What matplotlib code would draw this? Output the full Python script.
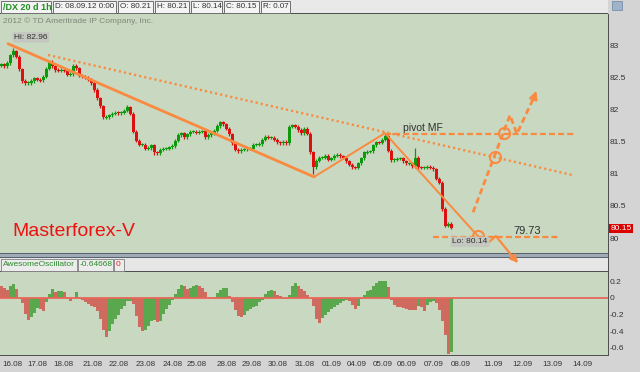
############################################################################################
# import packages
############################################################################################

import numpy as np
import matplotlib.pyplot as plt
from matplotlib.patches import Rectangle
import matplotlib.transforms as mtransforms

plt.rcParams['font.family'] = ['Liberation Sans', 'DejaVu Sans']

############################################################################################
# data (hourly bars, /DX)
############################################################################################

first_open = 82.68

closes = [82.70, 82.67, 82.72, 82.84, 82.90, 82.82, 82.62, 82.44, 82.41, 82.41,
          82.44, 82.48, 82.46, 82.45, 82.51, 82.63, 82.74, 82.67, 82.61, 82.60,
          82.61, 82.60, 82.54, 82.55, 82.68, 82.64, 82.52, 82.51, 82.49, 82.46,
          82.41, 82.30, 82.17, 82.05, 81.88, 81.88, 81.91, 81.93, 81.95, 81.94,
          81.95, 81.98, 82.03, 81.93, 81.65, 81.51, 81.45, 81.45, 81.39, 81.40,
          81.44, 81.33, 81.32, 81.37, 81.39, 81.39, 81.41, 81.43, 81.51, 81.60,
          81.63, 81.57, 81.61, 81.65, 81.65, 81.64, 81.65, 81.66, 81.57, 81.60,
          81.63, 81.67, 81.74, 81.80, 81.77, 81.70, 81.61, 81.47, 81.37, 81.35,
          81.37, 81.38, 81.39, 81.39, 81.45, 81.45, 81.46, 81.53, 81.57, 81.56,
          81.56, 81.53, 81.49, 81.47, 81.50, 81.47, 81.73, 81.75, 81.73, 81.68,
          81.63, 81.70, 81.62, 81.33, 81.10, 81.20, 81.25, 81.25, 81.28, 81.22,
          81.24, 81.28, 81.29, 81.27, 81.25, 81.19, 81.14, 81.10, 81.09, 81.16,
          81.24, 81.33, 81.34, 81.35, 81.44, 81.49, 81.48, 81.53, 81.58, 81.36,
          81.21, 81.22, 81.23, 81.24, 81.19, 81.16, 81.16, 81.12, 81.25, 81.10,
          81.09, 81.09, 81.11, 81.09, 81.07, 80.92, 80.86, 80.45, 80.19, 80.22,
          80.15]

# wicks that stick out further than the usual ones
spike_high = {4: 82.96, 42: 82.07, 128: 81.63, 138: 81.40}
spike_low = {51: 81.29, 104: 81.00, 150: 80.14}

# awesome oscillator values, same bars
ao = [0.15, 0.12, 0.10, 0.14, 0.17, 0.11, 0.00, -0.06, -0.19, -0.26,
      -0.23, -0.18, -0.12, -0.13, -0.16, -0.05, 0.05, 0.11, 0.07, 0.08,
      0.08, 0.07, 0.01, -0.03, 0.00, 0.07, 0.01, -0.02, -0.05, -0.07,
      -0.09, -0.11, -0.16, -0.25, -0.38, -0.47, -0.40, -0.31, -0.25, -0.20,
      -0.13, -0.09, -0.04, -0.03, -0.07, -0.22, -0.35, -0.39, -0.38, -0.33,
      -0.27, -0.26, -0.29, -0.28, -0.19, -0.13, -0.08, -0.02, 0.05, 0.11,
      0.16, 0.14, 0.11, 0.12, 0.15, 0.16, 0.15, 0.12, 0.07, 0.01,
      0.00, 0.01, 0.06, 0.10, 0.12, 0.12, 0.03, -0.05, -0.14, -0.22,
      -0.23, -0.20, -0.16, -0.13, -0.11, -0.09, -0.05, -0.02, 0.05, 0.09,
      0.10, 0.08, 0.04, 0.02, 0.00, -0.01, 0.04, 0.15, 0.18, 0.14,
      0.11, 0.09, 0.04, 0.00, -0.10, -0.25, -0.30, -0.24, -0.20, -0.17,
      -0.13, -0.11, -0.08, -0.06, -0.03, -0.02, -0.04, -0.08, -0.13, -0.09,
      -0.01, 0.04, 0.08, 0.10, 0.15, 0.18, 0.20, 0.20, 0.21, 0.13,
      -0.02, -0.08, -0.11, -0.11, -0.12, -0.13, -0.14, -0.14, -0.14, -0.09,
      -0.11, -0.15, -0.08, -0.05, -0.03, -0.06, -0.14, -0.27, -0.44, -0.67,
      -0.64668]

date_labels = ['16.08', '17.08', '18.08', '21.08', '22.08', '23.08', '24.08', '25.08',
               '28.08', '29.08', '30.08', '31.08', '01.09', '04.09', '05.09', '06.09',
               '07.09', '08.09', '11.09', '12.09', '13.09', '14.09']
date_pos = [3.5, 12, 20.5, 30.5, 39, 48, 57, 65, 75, 83.5, 92, 101, 110, 118.5,
            127, 135, 144, 153, 164, 173.5, 183.5, 193.5]

price_ticks = [80, 80.5, 81, 81.5, 82, 82.5, 83]
price_labels = ['80', '80.5', '81', '81.5', '82', '82.5', '83']
ao_ticks = [0.2, 0, -0.2, -0.4, -0.6]
ao_labels = ['0.2', '0', '-0.2', '-0.4', '-0.6']

header_items = ['D: 08.09.12 0:00', 'O: 80.21', 'H: 80.21', 'L: 80.14', 'C: 80.15', 'R: 0.07']

############################################################################################
# figure and panels
############################################################################################

W, H = 640, 372
bg = '#c9d8c0'
orange = '#fa8a40'
candle_up, candle_dn = '#0c9a0c', '#dd1010'
ao_up, ao_dn = '#5aa84e', '#cf6a5e'

fig = plt.figure(figsize=(6.4, 3.72), dpi=100)
fig.patch.set_facecolor('#d4d4d4')


def fx(x):
    return x / W


def fy(y):
    return 1 - y / H


def box(x0, y0, x1, y1, fc, ec='none', lw=0.8):
    # chrome sits under the axes so arrows drawn off the panel stay on top
    fig.add_artist(Rectangle((fx(x0), fy(y1)), (x1 - x0) / W, (y1 - y0) / H,
                             transform=fig.transFigure, fc=fc, ec=ec, lw=lw, zorder=-1))


ax = fig.add_axes([0, fy(253), fx(608), (253 - 14) / H])
ax2 = fig.add_axes([0, fy(355), fx(608), (355 - 272) / H])

for a in (ax, ax2):
    a.set_facecolor(bg)
    for s in a.spines.values():
        s.set_visible(False)
    a.set_xlim(-0.5, 202.17)
    a.yaxis.tick_right()

############################################################################################
# candles
############################################################################################

n = len(closes)
x = np.arange(n)
c = np.array(closes)
o = np.array([first_open] + closes[:-1])
highs = np.maximum(o, c) + 0.025
lows = np.minimum(o, c) - 0.025
for k, v in spike_high.items():
    highs[k] = v
for k, v in spike_low.items():
    lows[k] = v
col = np.where(c >= o, candle_up, candle_dn)
body = np.maximum(np.abs(c - o), 0.016)
bottom = (o + c) / 2 - body / 2
ax.vlines(x, lows, highs, colors=col, lw=0.9, zorder=2)
ax.bar(x, body, bottom=bottom, width=0.85, color=col, lw=0, zorder=2)

ax.set_ylim(79.767, 83.482)
ax.set_yticks(price_ticks)
ax.set_yticklabels(price_labels)
ax.set_xticks([])
ax.tick_params(axis='y', length=0, pad=1.5, labelsize=6, labelcolor='#333333')

############################################################################################
# drawn lines and notes
############################################################################################

# main trendline and the V
ax.plot([2.17, 104.2], [83.02, 80.95], color=orange, lw=2.0, zorder=3, solid_capstyle='round')
ax.plot([104.2, 127.8, 158.8], [80.95, 81.63, 80.03], color=orange, lw=1.4, zorder=3)

# dotted channel line
ax.plot([15.5, 190.2], [82.845, 80.98], color=orange, lw=1.7, dashes=(0.9, 1.3), zorder=3)

# pivot MF and lower level
ax.plot([127.8, 191.2], [81.62, 81.62], color=orange, lw=1.6, dashes=(2.7, 1.4), zorder=3)
ax.plot([143.8, 186.2], [80.015, 80.015], color=orange, lw=1.6, dashes=(2.7, 1.4), zorder=3)

# down scenario
ax.plot([158.8, 161.8, 164.8, 171.6], [80.03, 79.91, 80.03, 79.64], color=orange, lw=1.6,
        zorder=3, clip_on=False)
ax.annotate('', xy=(172.8, 79.58), xytext=(170.5, 79.70),
            arrowprops=dict(arrowstyle='-|>', color=orange, lw=1.6, mutation_scale=11),
            annotation_clip=False, zorder=4)

# up scenario
ax.plot([157.2, 169.5, 171.8, 177.6], [80.40, 81.91, 81.62, 82.20], color=orange, lw=2.0,
        dashes=(2.2, 1.3), zorder=3)
ax.annotate('', xy=(178.6, 82.33), xytext=(177.0, 82.12),
            arrowprops=dict(arrowstyle='-|>', color=orange, lw=1.6, mutation_scale=12),
            zorder=4)

# circles
ax.plot([158.8, 164.5, 167.5], [80.03, 81.26, 81.63], 'o', ms=8, mfc='none', mec=orange,
        mew=1.5, zorder=4)

ax.text(133.8, 81.71, 'pivot MF', fontsize=7.5, color='#303030', va='center', zorder=5)
ax.text(170.5, 80.11, '79.73', fontsize=8, color='#303030', va='center', zorder=5)
ax.text(3.5, 80.03, 'Masterforex-V', fontsize=14, color='#ee1111', va='baseline', zorder=5)
ax.text(9.8, 83.12, 'Hi: 82.96', fontsize=6, color='#303030', ha='center', va='center',
        bbox=dict(boxstyle='round,pad=0.2', fc='#c4c6c0', ec='none'), zorder=5)
ax.text(156.2, 79.94, 'Lo: 80.14', fontsize=6, color='#303030', ha='center', va='center',
        bbox=dict(boxstyle='round,pad=0.2', fc='#c4c6c0', ec='none'), zorder=5, clip_on=False)
ax.text(0.005, 0.985, '2012 \u00a9 TD Ameritrade IP Company, Inc.', transform=ax.transAxes,
        fontsize=6, color='#7c887a', va='top')

# last price badge
trans = mtransforms.blended_transform_factory(ax.transAxes, ax.transData)
ax.text(1.004, c[-1], '%.2f' % c[-1], transform=trans, fontsize=6, color='white',
        va='center', ha='left', clip_on=False,
        bbox=dict(boxstyle='square,pad=0.15', fc='#dd0000', ec='none'))

############################################################################################
# awesome oscillator
############################################################################################

ao = np.array(ao)
ao_col = []
last = ao_dn
for i in range(n):
    if i > 0 and ao[i] > ao[i - 1]:
        last = ao_up
    elif i > 0 and ao[i] < ao[i - 1]:
        last = ao_dn
    ao_col.append(last)
ax2.bar(x, ao, width=1.0, color=ao_col, lw=0, zorder=2)
ax2.axhline(0, color='#e8685a', lw=1.3, zorder=3)
ax2.set_ylim(-0.684, 0.312)
ax2.set_yticks(ao_ticks)
ax2.set_yticklabels(ao_labels)
ax2.set_xticks(date_pos)
ax2.set_xticklabels(date_labels)
ax2.tick_params(axis='y', length=0, pad=1.5, labelsize=6, labelcolor='#333333')
ax2.tick_params(axis='x', length=0, pad=4, labelsize=5.8, labelcolor='#333333')

############################################################################################
# chrome: header bars and separators
############################################################################################

box(0, 0, 608, 13, '#e9e9e9')
box(0, 13, 608, 14, '#505050')
box(1, 1, 51, 12.5, '#f4f4f4', '#707070', 0.7)
fig.text(fx(3), fy(7), '/DX 20 d 1h', fontsize=6.5, weight='bold', color='#1f8f1f', va='center')
edges = [53, 118, 155, 191, 224, 261, 292]
for i, item in enumerate(header_items):
    box(edges[i], 1, edges[i + 1] - 2, 12.5, '#f4f4f4', '#707070', 0.7)
    fig.text(fx(edges[i] + 2), fy(7), item, fontsize=5.8, color='#303030', va='center')
box(612, 1, 622, 10, '#9fb4c8', '#7890a8', 0.6)

box(0, 253, 608, 257.5, '#a0aab4')
box(0, 253, 608, 254, '#566270')
box(0, 256.5, 608, 257.5, '#566270')
box(0, 257.5, 608, 271, '#e6e6e6')
box(0, 271, 608, 272, '#505050')
box(1, 258.5, 77, 270.5, '#ececec', '#808080', 0.6)
box(78, 258.5, 113, 270.5, '#ececec', '#808080', 0.6)
box(114, 258.5, 124, 270.5, '#ececec', '#808080', 0.6)
fig.text(fx(3), fy(264.5), 'AwesomeOscillator', fontsize=6, color='#2a8a2a', va='center')
fig.text(fx(80), fy(264.5), '%.5f' % ao[-1], fontsize=6, color='#2a8a2a', va='center')
fig.text(fx(116), fy(264.5), '0', fontsize=6, color='#ee2222', va='center')

box(0, 355, 608, 356, '#505050')
box(607.5, 14, 608.5, 356, '#505050')

plt.savefig('out.png', dpi=100, facecolor=fig.get_facecolor())
